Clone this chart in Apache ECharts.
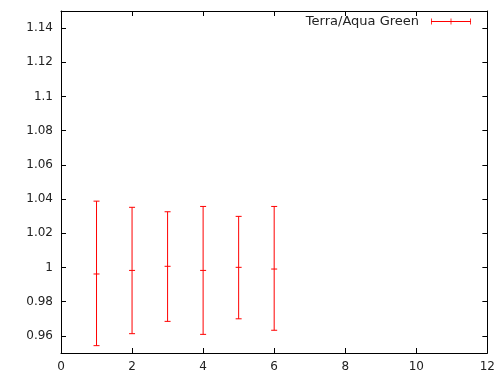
<!DOCTYPE html>
<html><head><meta charset="utf-8">
<script src="https://cdn.jsdelivr.net/npm/echarts@6/dist/echarts.min.js"></script>
<style>html,body{margin:0;padding:0;background:#fff}#c{width:498px;height:377px}</style>
</head><body><div id="c"></div>
<script>
const xs = [1, 2, 3, 4, 5, 6];
const centers = [0.9962, 0.9983, 1.0007, 0.9983, 1.0001, 0.9991];
const lows = [0.9543, 0.9613, 0.9685, 0.9609, 0.9700, 0.9633];
const highs = [1.0388, 1.0352, 1.0326, 1.0357, 1.0299, 1.0357];
const yTicks = [0.96, 0.98, 1.00, 1.02, 1.04, 1.06, 1.08, 1.10, 1.12, 1.14];
const seriesName = 'Terra/Aqua Green';

const data = xs.map((x, i) => [x, centers[i], lows[i], highs[i]]);
const chart = echarts.init(document.getElementById('c'));
const font = 'DejaVu Sans';
const axisCommon = {
  axisLine: {show: true, onZero: false, lineStyle: {color: '#000', width: 1}},
  splitLine: {show: false},
};
const xTick = {show: true, inside: true, length: 5, lineStyle: {color: '#000'}};
const yTick = {show: true, inside: true, length: 5, lineStyle: {color: '#000'}, customValues: yTicks};
chart.setOption({
  animation: false,
  grid: {left: 61, top: 11, right: 9, bottom: 24},
  legend: {
    data: [{name: seriesName, icon: 'path://M0,2.6h40v0.8h-40zM0,0h0.8v6h-0.8zM39.2,0h0.8v6h-0.8zM19.6,0h0.8v6h-0.8z'}],
    right: 22, top: 10, align: 'right', itemWidth: 40, itemHeight: 6, itemGap: 13,
    textStyle: {fontFamily: font, fontSize: 13, color: '#222', padding: [0, 7, 0, 0]}
  },
  xAxis: [
    Object.assign({type: 'value', min: 0, max: 12, interval: 2, position: 'bottom', axisTick: xTick,
      axisLabel: {fontFamily: font, fontSize: 12, color: '#222', margin: 8}}, axisCommon),
    Object.assign({type: 'value', min: 0, max: 12, interval: 2, position: 'top', axisTick: xTick,
      axisLabel: {show: false}}, axisCommon)
  ],
  yAxis: [
    Object.assign({type: 'value', min: 0.95, max: 1.15, position: 'left', axisTick: yTick,
      axisLabel: {fontFamily: font, fontSize: 12, color: '#222', margin: 8, customValues: yTicks,
        formatter: v => String(parseFloat(v.toFixed(2)))}}, axisCommon),
    Object.assign({type: 'value', min: 0.95, max: 1.15, position: 'right', axisTick: yTick,
      axisLabel: {show: false}}, axisCommon)
  ],
  series: [{
    name: seriesName,
    type: 'custom',
    xAxisIndex: 0, yAxisIndex: 0,
    itemStyle: {color: '#ff0000'},
    renderItem: function (params, api) {
      const x = api.value(0);
      const c = api.coord([x, api.value(1)]);
      const lo = api.coord([x, api.value(2)]);
      const hi = api.coord([x, api.value(3)]);
      const w = 3;
      const st = {stroke: '#ff0000', lineWidth: 1};
      return {type: 'group', children: [
        {type: 'line', shape: {x1: c[0], y1: lo[1], x2: c[0], y2: hi[1]}, style: st},
        {type: 'line', shape: {x1: c[0] - w, y1: lo[1], x2: c[0] + w, y2: lo[1]}, style: st},
        {type: 'line', shape: {x1: c[0] - w, y1: hi[1], x2: c[0] + w, y2: hi[1]}, style: st},
        {type: 'line', shape: {x1: c[0] - w, y1: c[1], x2: c[0] + w, y2: c[1]}, style: st}
      ]};
    },
    encode: {x: 0, y: [1, 2, 3]},
    data: data
  }]
});
</script></body></html>
